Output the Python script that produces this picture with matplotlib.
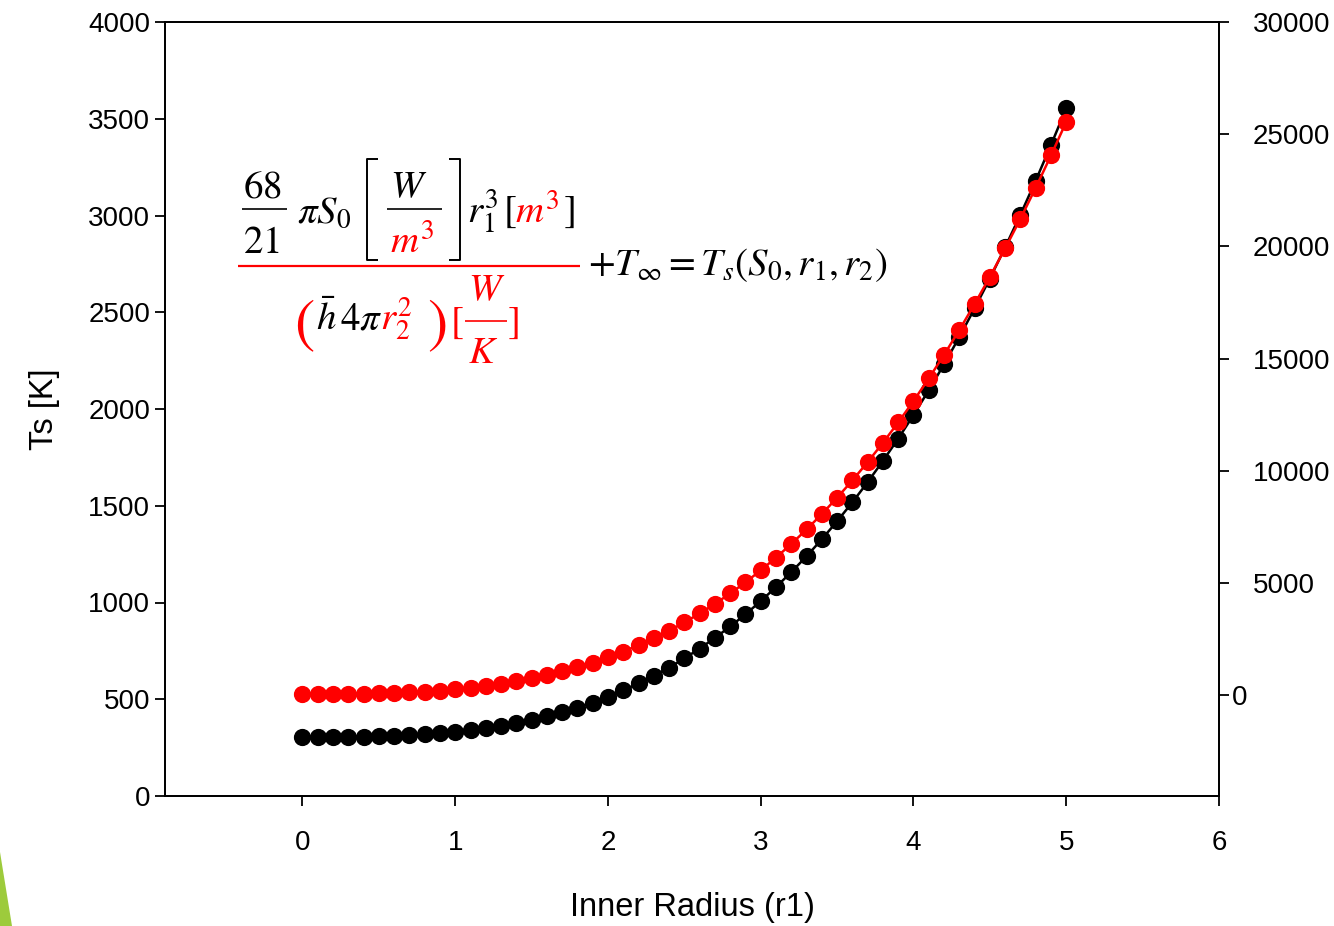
import numpy as np
import matplotlib
matplotlib.use("Agg")
import matplotlib.pyplot as plt
from matplotlib.lines import Line2D
from matplotlib.patches import Polygon
from matplotlib.transforms import ScaledTranslation

# inner radius grid (0.1 steps) and the two curves
r1 = np.linspace(0, 5, 51)
ts_black = [305, 305, 305, 306, 307, 308, 311, 314, 318, 324,
            331, 340, 350, 362, 376, 393, 411, 433, 457, 483,
            513, 546, 582, 621, 664, 711, 762, 817, 876, 939,
            1007, 1080, 1157, 1239, 1327, 1420, 1518, 1622, 1732, 1847,
            1969, 2097, 2231, 2372, 2520, 2674, 2836, 3004, 3180, 3364,
            3555]
right_red = [50, 50, 52, 55, 63, 76, 94, 120, 154, 199,
             254, 322, 403, 498, 610, 739, 886, 1052, 1240, 1449,
             1682, 1939, 2222, 2532, 2870, 3238, 3636, 4065, 4528, 5025,
             5558, 6127, 6735, 7381, 8068, 8797, 9568, 10383, 11244, 12151,
             13106, 14110, 15164, 16269, 17428, 18640, 19907, 21230, 22611, 24050,
             25550]

x_ticks = [0, 1, 2, 3, 4, 5, 6]
left_ticks = [0, 500, 1000, 1500, 2000, 2500, 3000, 3500, 4000]
right_ticks = [0, 5000, 10000, 15000, 20000, 25000, 30000]

plt.rcParams["font.family"] = ["Liberation Sans", "DejaVu Sans"]
plt.rcParams["mathtext.fontset"] = "stix"

W, H = 1334, 926
fig = plt.figure(figsize=(W / 100, H / 100), dpi=100)
ax = fig.add_axes([165 / W, 1 - 796 / H, (1219 - 165) / W, (796 - 22) / H])

ax.plot(r1, ts_black, color="black", lw=1.8, marker="o", ms=11.4,
        mfc="black", mec="black", zorder=3)
ax.set_xlim(-0.9, 6)
ax.set_ylim(0, 4000)
ax.set_xticks(x_ticks)
ax.set_yticks(left_ticks)
ax.set_xlabel("Inner Radius (r1)", fontsize=23.5, labelpad=26)
ax.set_ylabel("Ts [K]", fontsize=23.5, labelpad=20)

ax2 = ax.twinx()
ax2.plot(r1, right_red, color="red", lw=1.8, marker="o", ms=11.4,
         mfc="red", mec="red", zorder=3)
ax2.set_ylim(-4500, 30000)
ax2.set_yticks(right_ticks)

for a in (ax, ax2):
    for sp in a.spines.values():
        sp.set_linewidth(1.3)
ax.tick_params(axis="y", direction="out", length=7.2, width=1.3, pad=3.5, labelsize=20)
ax.tick_params(axis="x", direction="out", length=7.2, width=1.3, pad=17, labelsize=20)
ax2.tick_params(axis="y", direction="out", length=7.2, width=1.3, pad=17, labelsize=20)


# equation drawn piece by piece (pixel positions, baseline)
def put(x, y, s, color="black", size=28, **kw):
    fig.text(x / W, 1 - y / H, s, color=color, fontsize=size,
             ha="left", va="baseline", **kw)


def seg(xs, ys, color="black", lw=1.2):
    fig.add_artist(Line2D([v / W for v in xs], [1 - v / H for v in ys],
                          color=color, lw=lw, transform=fig.transFigure,
                          solid_capstyle="butt"))


put(243, 198, "$68$")
put(243, 253, "$21$")
seg([242, 287], [209, 209])
put(297, 223, r"$\pi S_0$")
seg([378, 367, 367, 378], [159, 159, 260, 260], lw=1.4)
put(390, 197, "$W$")
seg([387, 442], [209, 209])
put(390, 253, "$m^3$", color="red")
seg([449, 460, 460, 449], [159, 159, 260, 260], lw=1.4)
put(467, 223, "$r_1^3$")
put(503, 222, "$[$")
put(515, 223, "$m^3$", color="red")
put(563, 222, "$]$")
seg([238, 580], [266, 266], color="red", lw=1.6)

put(294, 340, "(", color="red", size=44, family="STIXGeneral")
put(316, 330, r"$\bar{h}$")
put(340, 330, r"$4\pi$")
put(380, 330, "$r_2^2$", color="red")
put(427, 340, ")", color="red", size=44, family="STIXGeneral")
put(450, 333, "$[$", color="red")
put(468, 300, "$W$", color="red")
seg([465, 507], [321, 321], color="red")
put(468, 363, "$K$", color="red")
put(507, 333, "$]$", color="red")

put(588, 275, r"$+T_\infty=T_s(S_0,r_1,r_2)$")

# slide decoration in the lower left corner
fig.add_artist(Polygon([(0, 1 - 852 / H), (12 / W, 0), (0, 0)], closed=True,
                       transform=fig.transFigure, color="#9dcb3c", lw=0))

fig.canvas.draw()
for tick in ax2.yaxis.get_major_ticks():
    if tick.get_loc() == 0:
        lab = tick.label2
        lab.set_transform(lab.get_transform() + ScaledTranslation(-21 / 100, 0, fig.dpi_scale_trans))

fig.savefig("out.png", dpi=100)
